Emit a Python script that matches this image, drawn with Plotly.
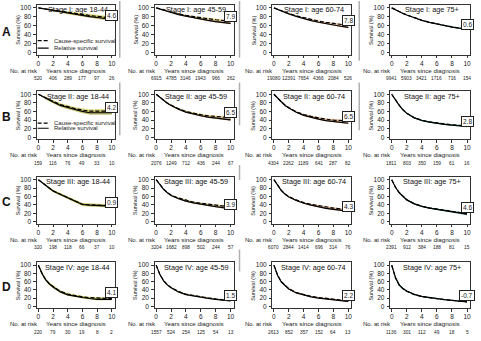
import plotly.graph_objects as go

# ---------------- data ----------------
T = [0, 0.5, 1, 1.5, 2, 3, 4, 5, 6, 7, 8, 9, 10]
STAGES = ["I", "II", "III", "IV"]
AGES = ["18-44", "45-59", "60-74", "75+"]
ROW_LETTERS = ["A", "B", "C", "D"]
RISK_TIMES = [0, 2, 4, 6, 8, 10]

# relative survival (solid), per age group, per stage
RS_I = [
    [100, 98.5, 97, 95.5, 94, 91, 88, 85.5, 83, 80.5, 78.5, 76.5, 74.5],
    [100, 97.5, 94.5, 91.5, 89, 85, 81.5, 78, 75, 72, 69.5, 67.5, 65.5],
    [100, 96.5, 93, 89.5, 86.5, 81, 76, 71.5, 68, 64.5, 61.5, 59, 56.5],
    [100, 95.5, 91.5, 87.5, 84, 77.5, 72, 67.5, 63.5, 60, 57, 54.5, 52],
]
RS_II = [
    [100, 95, 90, 86, 82, 74, 69, 64, 60, 57, 57, 57, 57],
    [100, 93, 85, 79, 74, 65, 58.5, 54, 50, 47, 44.5, 42.5, 40.5],
    [100, 90.5, 81.5, 74, 68, 58, 51, 46, 42, 38.5, 36, 34, 32.5],
    [100, 86, 74, 63.5, 55.5, 45, 39, 35, 32, 30, 28, 26.5, 25],
]
RS_III = [
    [100, 93, 86, 79, 73, 65, 57, 50, 41, 39.5, 39, 38, 37],
    [100, 88, 77, 69, 62.5, 55, 49, 45, 41.5, 38.5, 36, 33.5, 31.5],
    [100, 86, 74, 65.5, 59, 50.5, 44, 39.5, 35.5, 32, 29.5, 27.5, 25.5],
    [100, 82, 69, 59.5, 52, 42.5, 36.5, 32.5, 29.5, 26.5, 23, 20, 18],
]
RS_IV = [
    [100, 79, 64, 54, 47, 35, 28, 24, 21.5, 19, 17, 17, 17],
    [100, 77, 62, 52, 45, 35, 28.5, 25, 22, 19.5, 17, 15, 13],
    [100, 75, 59, 49.5, 42, 32.5, 27, 23, 20, 17.5, 15.5, 14, 12],
    [100, 70, 52, 43, 37, 29, 24, 21, 18.5, 16.5, 14.5, 12, 11],
]
# cause-specific survival (dashed)
CSS_I = [
    [100, 98.7, 97.4, 96, 94.8, 92, 89.5, 87.5, 85, 83, 81, 79, 77.5],
    [100, 97.8, 95, 92.5, 90.3, 86.8, 83.5, 80.5, 78, 75.5, 73.5, 72, 70.5],
    [100, 96.7, 93.5, 90.3, 87.5, 82.5, 78, 74, 70.5, 67.5, 65, 63, 61],
    [100, 95.6, 91.7, 87.8, 84.3, 78, 72.5, 68, 64, 60.5, 57.5, 55, 52.5],
]
CSS_II = [
    [100, 95.5, 91, 87, 83.5, 76, 71, 66.5, 63, 61, 61, 61, 61],
    [100, 93.2, 85.5, 79.5, 75, 66.5, 60, 56, 52.5, 50, 48, 46.5, 45.5],
    [100, 90.7, 82, 75, 69, 59.5, 53, 48.5, 45, 42, 40, 38.5, 37.5],
    [100, 86.2, 74.5, 64, 56, 45.5, 39.5, 35.8, 33, 31, 29, 27.5, 26],
]
CSS_III = [
    [100, 93.2, 86.3, 79.5, 73.5, 65.5, 57.5, 50.5, 41.5, 40.5, 40, 39, 38],
    [100, 88.3, 77.5, 69.8, 63.5, 56.5, 51, 47, 44, 41.5, 39.5, 37.5, 35.5],
    [100, 86.3, 74.5, 66.3, 60, 52, 45.5, 41.5, 38, 35, 32.5, 30.5, 29],
    [100, 82.3, 69.5, 60, 52.5, 43, 37, 33, 30, 27.5, 24, 21.5, 19.5],
]
CSS_IV = [
    [100, 79.5, 65, 55, 48, 36.5, 29.5, 25.5, 23, 21, 19.5, 19.5, 19.5],
    [100, 77.3, 62.5, 52.7, 46, 36, 29.5, 26, 23, 20.5, 18, 16, 14],
    [100, 75.3, 59.7, 50.2, 43, 33.5, 28, 24, 21.5, 19, 17, 15, 13],
    [100, 69.5, 51.5, 42.5, 36.5, 28.5, 23.5, 20.5, 18.5, 16.5, 14.5, 12, 11],
]
# confidence band half-widths (percentage points)
CI_I = [
    [0, 0.6, 1, 1.3, 1.6, 2, 2.4, 2.7, 3, 3.3, 3.6, 3.9, 4.2],
    [0, 0.3, 0.5, 0.6, 0.7, 0.9, 1.1, 1.3, 1.5, 1.7, 1.9, 2.1, 2.3],
    [0, 0.2, 0.3, 0.4, 0.5, 0.6, 0.8, 0.9, 1.0, 1.2, 1.3, 1.5, 1.7],
    [0, 0.2, 0.3, 0.4, 0.4, 0.5, 0.6, 0.7, 0.8, 0.9, 1.0, 1.1, 1.2],
]
CI_II = [
    [0, 1.5, 2.2, 2.6, 3, 3.4, 3.7, 4, 4.2, 4.4, 4.5, 4.6, 4.7],
    [0, 0.6, 0.9, 1.1, 1.3, 1.5, 1.7, 1.8, 1.9, 2, 2.1, 2.2, 2.3],
    [0, 0.5, 0.7, 0.8, 0.9, 1.1, 1.2, 1.3, 1.4, 1.5, 1.6, 1.7, 1.8],
    [0, 0.8, 1.1, 1.3, 1.4, 1.5, 1.5, 1.5, 1.5, 1.5, 1.5, 1.5, 1.5],
]
CI_III = [
    [0, 1.2, 1.8, 2.2, 2.5, 2.8, 3, 3.2, 3.3, 3.4, 3.5, 3.6, 3.7],
    [0, 0.5, 0.8, 0.9, 1, 1.1, 1.2, 1.3, 1.4, 1.5, 1.6, 1.7, 1.8],
    [0, 0.4, 0.6, 0.7, 0.8, 0.9, 1, 1.1, 1.2, 1.3, 1.4, 1.5, 1.6],
    [0, 0.8, 1.1, 1.2, 1.3, 1.4, 1.4, 1.5, 1.5, 1.6, 1.8, 2, 2.2],
]
CI_IV = [
    [0, 2.5, 3, 3, 3, 2.8, 2.6, 2.5, 2.4, 2.4, 2.4, 2.4, 2.4],
    [0, 1, 1.2, 1.2, 1.2, 1.1, 1, 1, 1, 1, 1, 1, 1],
    [0, 0.9, 1, 1, 1, 1, 0.9, 0.9, 0.9, 0.9, 0.9, 0.9, 0.9],
    [0, 3, 2.5, 1.8, 1.5, 1.2, 1.1, 1, 1, 1, 1, 1, 1],
]
# numbers at risk at 0,2,4,6,8,10 years
RISK_I = [
    [520, 406, 289, 177, 97, 26],
    [6915, 4785, 3146, 1943, 966, 262],
    [19080, 12391, 7654, 4366, 2084, 526],
    [9941, 5903, 3421, 1716, 716, 154],
]
RISK_II = [
    [159, 116, 76, 49, 33, 10],
    [2076, 1249, 712, 436, 244, 67],
    [4304, 2262, 1189, 641, 287, 82],
    [1811, 803, 350, 159, 61, 16],
]
RISK_III = [
    [320, 198, 118, 66, 37, 10],
    [3204, 1682, 898, 502, 244, 57],
    [6070, 2844, 1414, 696, 314, 76],
    [2391, 912, 384, 188, 81, 15],
]
RISK_IV = [
    [220, 79, 30, 19, 8, 2],
    [1557, 524, 254, 125, 54, 13],
    [2613, 852, 357, 152, 64, 13],
    [1136, 301, 112, 49, 18, 5],
]
# boxed values shown at 10 years
DIFF_LABELS = [
    ["4.6", "7.9", "7.8", "0.6"],
    ["4.2", "6.5", "6.5", "2.8"],
    ["0.9", "3.9", "4.3", "4.6"],
    ["4.1", "1.5", "2.2", "-0.7"],
]

RS = [RS_I, RS_II, RS_III, RS_IV]
CSS = [CSS_I, CSS_II, CSS_III, CSS_IV]
CI = [CI_I, CI_II, CI_III, CI_IV]
RISK = [RISK_I, RISK_II, RISK_III, RISK_IV]

# ---------------- layout / style ----------------
W, H = 481, 341
FONT = "Liberation Sans, Arial, sans-serif"
COL_L = [37, 155, 273, 391]
COL_R = [115, 234, 352, 471]
ROW_T = [4, 91, 177, 263]
ROW_B = [54, 139, 224, 309]
LABEL_Y = [[82, 81, 72, 62], [70, 57, 48, 36], [45, 42, 37, 34], [33, 27, 27, 27]]
CSS_BAND = ["rgba(214,212,110,0.75)", "rgba(222,200,100,0.75)", "rgba(226,160,100,0.75)", "rgba(110,185,165,0.75)"]
RS_BAND = ["rgba(180,176,80,0.75)", "rgba(170,125,70,0.75)", "rgba(175,105,60,0.75)", "rgba(60,145,125,0.75)"]
TXT = "#222"


def px_x(x):
    return x / W


def px_y(y):
    return 1 - y / H


fig = go.Figure()
annotations = []
shapes = []

for r in range(4):
    for c in range(4):
        n = r * 4 + c + 1
        xa = "x" if n == 1 else f"x{n}"
        ya = "y" if n == 1 else f"y{n}"
        rs, css, w = RS[r][c], CSS[r][c], CI[r][c]

        # bands
        for series, col in ((css, CSS_BAND[c]), (rs, RS_BAND[c])):
            lo = [v - d for v, d in zip(series, w)]
            hi = [v + d for v, d in zip(series, w)]
            fig.add_trace(go.Scatter(x=T, y=hi, mode="lines", line=dict(width=0),
                                     xaxis=xa, yaxis=ya, showlegend=False, hoverinfo="skip"))
            fig.add_trace(go.Scatter(x=T, y=lo, mode="lines", line=dict(width=0),
                                     fill="tonexty", fillcolor=col,
                                     xaxis=xa, yaxis=ya, showlegend=False, hoverinfo="skip"))
        fig.add_trace(go.Scatter(x=T, y=rs, mode="lines", line=dict(color="black", width=1.2),
                                 xaxis=xa, yaxis=ya, showlegend=False))
        fig.add_trace(go.Scatter(x=T, y=css, mode="lines",
                                 line=dict(color="black", width=1.2, dash="4px,2px"),
                                 xaxis=xa, yaxis=ya, showlegend=False))

        axis_common = dict(showline=True, mirror=True, linecolor="#333", linewidth=1,
                           ticks="outside", ticklen=2.5, tickwidth=1, tickcolor="#333",
                           tickfont=dict(size=6.5, color=TXT, family=FONT),
                           showgrid=False, zeroline=False, fixedrange=True)
        fig.layout[f"xaxis{n if n > 1 else ''}"] = dict(
            axis_common, domain=[px_x(COL_L[c]), px_x(COL_R[c])], anchor=ya,
            range=[-0.2, 10.4], tickvals=[0, 2, 4, 6, 8, 10], ticklabelstandoff=0)
        fig.layout[f"yaxis{n if n > 1 else ''}"] = dict(
            axis_common, domain=[px_y(ROW_B[r]), px_y(ROW_T[r])], anchor=xa,
            range=[-4.5, 106.5], tickvals=[0, 20, 40, 60, 80, 100], ticklabelstandoff=1)

        cx = (COL_L[c] + COL_R[c]) / 2
        # panel title inside the box
        annotations.append(dict(text=f"Stage {STAGES[r]}: age {AGES[c]}", xref="paper", yref="paper",
                                x=px_x(cx + 2), y=px_y(ROW_T[r] - 1.5), xanchor="center", yanchor="top",
                                showarrow=False, font=dict(size=7.3, color="#111", family=FONT)))
        # y axis title
        annotations.append(dict(text="Survival (%)", xref="paper", yref="paper",
                                x=px_x(COL_L[c] - 19), y=px_y((ROW_T[r] + ROW_B[r]) / 2),
                                xanchor="center", yanchor="middle", textangle=-90,
                                showarrow=False, font=dict(size=5.5, color=TXT, family=FONT)))
        # x axis title
        annotations.append(dict(text="Years since diagnosis", xref="paper", yref="paper",
                                x=px_x(cx), y=px_y(ROW_B[r] + 15.5), xanchor="center", yanchor="middle",
                                showarrow=False, font=dict(size=6.2, color=TXT, family=FONT)))
        annotations.append(dict(text="No. at risk", xref="paper", yref="paper",
                                x=px_x(COL_L[c] + 3), y=px_y(ROW_B[r] + 16), xanchor="right", yanchor="middle",
                                showarrow=False, font=dict(size=6, color=TXT, family=FONT)))
        for t, v in zip(RISK_TIMES, RISK[r][c]):
            annotations.append(dict(text=str(v), xref=xa, yref="paper", x=t, y=px_y(ROW_B[r] + 24),
                                    xanchor="center", yanchor="middle", showarrow=False,
                                    font=dict(size=4.8, color=TXT, family=FONT)))
        # boxed value
        annotations.append(dict(text=DIFF_LABELS[r][c], xref=xa, yref=ya, x=10, y=LABEL_Y[r][c],
                                xanchor="center", yanchor="middle", showarrow=False,
                                bordercolor="#222", borderwidth=1, borderpad=1, bgcolor="white",
                                font=dict(size=6.5, color=TXT, family=FONT)))

    annotations.append(dict(text=f"<b>{ROW_LETTERS[r]}</b>", xref="paper", yref="paper",
                            x=px_x(7), y=px_y((ROW_T[r] + ROW_B[r]) / 2 + 2), xanchor="center",
                            yanchor="middle", showarrow=False,
                            font=dict(size=12, color="#111", family=FONT)))

# legends in first column of rows A and B
for r, (ydash, ysolid) in ((0, (27, 10)), (1, (33, 21))):
    n = r * 4 + 1
    xa = "x" if n == 1 else f"x{n}"
    ya = "y" if n == 1 else f"y{n}"
    shapes.append(dict(type="line", xref=xa, yref=ya, x0=-0.1, x1=1.4, y0=ydash, y1=ydash,
                       line=dict(color="black", width=1.2, dash="4px,2px")))
    shapes.append(dict(type="line", xref=xa, yref=ya, x0=-0.1, x1=1.4, y0=ysolid, y1=ysolid,
                       line=dict(color="black", width=1.2)))
    annotations.append(dict(text="Cause-specific survival", xref=xa, yref=ya, x=1.9, y=ydash,
                            xanchor="left", yanchor="middle", showarrow=False,
                            font=dict(size=6, color=TXT, family=FONT)))
    annotations.append(dict(text="Relative survival", xref=xa, yref=ya, x=1.9, y=ysolid,
                            xanchor="left", yanchor="middle", showarrow=False,
                            font=dict(size=6, color=TXT, family=FONT)))

# faint gray separators between panel columns
for xpix, spans in ((120, [(0, 57), (82, 135)]), (240, [(0, 57), (82, 125), (165, 180), (250, 272)]),
                    (360, [(0, 60), (82, 130)])):
    for y0, y1 in spans:
        shapes.append(dict(type="line", xref="paper", yref="paper", x0=px_x(xpix), x1=px_x(xpix),
                           y0=px_y(y0), y1=px_y(y1), line=dict(color="#b0b0b0", width=1.5)))

fig.update_layout(width=W, height=H, margin=dict(l=0, r=0, t=0, b=0),
                  paper_bgcolor="white", plot_bgcolor="white",
                  annotations=annotations, shapes=shapes, showlegend=False,
                  font=dict(family=FONT))

fig.write_html("out.html")
